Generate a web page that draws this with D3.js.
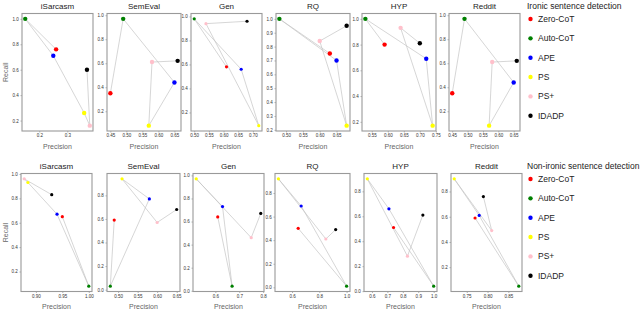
<!DOCTYPE html>
<html>
<head>
<meta charset="utf-8">
<script src="https://cdn.jsdelivr.net/npm/d3@7"></script>
<style>
  body { margin: 0; background: #fff; }
  text { font-family: "Liberation Sans", Arial, sans-serif; }
</style>
</head>
<body>
<svg id="chart" width="640" height="309" viewBox="0 0 640 309"></svg>
<script>
// methods, in the order the connecting line visits them
const methods = ["Zero-CoT", "Auto-CoT", "APE", "PS", "PS+", "IDADP"];
const methodColors = ["red", "green", "blue", "yellow", "pink", "black"];
const datasets = ["iSarcasm", "SemEval", "Gen", "RQ", "HYP", "Reddit"];

// Ironic sentence detection
const ironicPrecision = [
    [0.26, 0.15, 0.25, 0.36, 0.38, 0.37],
    [0.45, 0.49, 0.65, 0.57, 0.58, 0.66],
    [0.61, 0.50, 0.66, 0.72, 0.54, 0.68],
    [0.63, 0.48, 0.65, 0.68, 0.60, 0.68],
    [0.59, 0.53, 0.72, 0.74, 0.64, 0.70],
    [0.45, 0.49, 0.65, 0.57, 0.58, 0.66]
];
const ironicRecall = [
    [0.76, 1.00, 0.71, 0.26, 0.16, 0.60],
    [0.35, 0.97, 0.44, 0.08, 0.61, 0.62],
    [0.58, 0.98, 0.56, 0.09, 0.94, 0.96],
    [0.75, 1.00, 0.70, 0.23, 0.84, 0.95],
    [0.80, 1.00, 0.69, 0.17, 0.93, 0.81],
    [0.35, 0.97, 0.44, 0.08, 0.61, 0.62]
];
const ironicXTicks = [
    ["0.2", "0.3"],
    ["0.45", "0.50", "0.55", "0.60", "0.65"],
    ["0.50", "0.55", "0.60", "0.65", "0.70"],
    ["0.50", "0.55", "0.60", "0.65"],
    ["0.55", "0.60", "0.65", "0.70", "0.75"],
    ["0.45", "0.50", "0.55", "0.60", "0.65"]
];
const ironicYTicks = [
    ["0.2", "0.4", "0.6", "0.8", "1.0"],
    ["0.2", "0.4", "0.6", "0.8", "1.0"],
    ["0.2", "0.4", "0.6", "0.8", "1.0"],
    ["0.2", "0.3", "0.4", "0.5", "0.6", "0.7", "0.8", "0.9", "1.0"],
    ["0.2", "0.4", "0.6", "0.8", "1.0"],
    ["0.2", "0.4", "0.6", "0.8", "1.0"]
];

// Non-ironic sentence detection
const nonIronicPrecision = [
    [0.95, 1.00, 0.94, 0.885, 0.878, 0.93],
    [0.49, 0.48, 0.58, 0.51, 0.60, 0.65],
    [0.61, 0.67, 0.63, 0.52, 0.75, 0.79],
    [0.645, 1.00, 0.667, 0.50, 0.848, 0.92],
    [0.74, 1.00, 0.71, 0.57, 0.83, 0.93],
    [0.77, 0.875, 0.78, 0.72, 0.81, 0.79]
];
const nonIronicRecall = [
    [0.65, 0.08, 0.67, 0.93, 0.96, 0.83],
    [0.59, 0.03, 0.77, 0.94, 0.57, 0.68],
    [0.64, 0.04, 0.73, 0.97, 0.46, 0.67],
    [0.50, 0.01, 0.69, 0.92, 0.41, 0.49],
    [0.51, 0.04, 0.66, 0.90, 0.28, 0.61],
    [0.59, 0.05, 0.61, 0.90, 0.49, 0.76]
];
const nonIronicXTicks = [
    ["0.90", "0.95", "1.00"],
    ["0.50", "0.55", "0.60", "0.65"],
    ["0.6", "0.7", "0.8"],
    ["0.6", "0.8", "1.0"],
    ["0.6", "0.7", "0.8", "0.9", "1.0"],
    ["0.75", "0.80", "0.85"]
];
const nonIronicYTicks = [
    ["0.2", "0.4", "0.6", "0.8", "1.0"],
    ["0.0", "0.2", "0.4", "0.6", "0.8"],
    ["0.0", "0.2", "0.4", "0.6", "0.8", "1.0"],
    ["0.0", "0.2", "0.4", "0.6", "0.8"],
    ["0.0", "0.2", "0.4", "0.6", "0.8"],
    ["0.2", "0.4", "0.6", "0.8"]
];

// layout (frame boxes per panel)
const topFrames = [[22, 93], [107, 181], [191, 262], [276, 350], [362, 436], [449, 520]];
const bottomFrames = [[21, 92], [107, 180], [193, 264], [275, 350], [364, 437], [451, 522]];
const topRowY = [13.5, 131];
const bottomRowY = [173.5, 291.5];

const svg = d3.select("#chart");
svg.append("rect").attr("width", 640).attr("height", 309).attr("fill", "#fff");

// pad extent by 5% like matplotlib's default margins
function padded(values) {
    const [lo, hi] = d3.extent(values);
    const m = (hi - lo) * 0.05;
    return [lo - m, hi + m];
}

function drawPanel(frame, rowY, prec, rec, xTicks, yTicks, title, showRecall, radius) {
    const g = svg.append("g");
    const x = d3.scaleLinear().domain(padded(prec)).range(frame);
    const y = d3.scaleLinear().domain(padded(rec)).range([rowY[1], rowY[0]]);

    const xAxis = g.append("g")
        .attr("transform", `translate(0,${rowY[1]})`)
        .call(d3.axisBottom(x)
            .tickValues(xTicks.map(Number))
            .tickFormat((d, i) => xTicks[i])
            .tickSize(1.5).tickPadding(1.8));
    const yAxis = g.append("g")
        .attr("transform", `translate(${frame[0]},0)`)
        .call(d3.axisLeft(y)
            .tickValues(yTicks.map(Number))
            .tickFormat((d, i) => yTicks[i])
            .tickSize(1.5).tickPadding(1.8));
    [xAxis, yAxis].forEach(a => {
        a.select(".domain").remove();
        a.selectAll(".tick line").attr("stroke", "#666").attr("stroke-width", 0.5);
        a.selectAll(".tick text").attr("fill", "#333").style("font-size", "4.5px");
    });

    // frame
    g.append("rect")
        .attr("x", frame[0]).attr("y", rowY[0])
        .attr("width", frame[1] - frame[0]).attr("height", rowY[1] - rowY[0])
        .attr("fill", "none").attr("stroke", "#9a9a9a").attr("stroke-width", 1.1);

    // connecting line through methods in order
    const pts = prec.map((p, i) => [x(p), y(rec[i])]);
    g.append("path")
        .attr("d", d3.line()(pts))
        .attr("fill", "none")
        .attr("stroke", "#c4c4c4")
        .attr("stroke-width", 0.7);

    g.selectAll(".pt")
        .data(pts)
        .enter()
        .append("circle")
        .attr("cx", d => d[0])
        .attr("cy", d => d[1])
        .attr("r", radius)
        .attr("fill", (d, i) => methodColors[i]);

    const cx = (frame[0] + frame[1]) / 2;
    g.append("text")
        .attr("x", cx).attr("y", rowY[0] - 4.5)
        .attr("text-anchor", "middle")
        .attr("fill", "#222")
        .style("font-size", "8px")
        .text(title);
    g.append("text")
        .attr("x", cx).attr("y", rowY[1] + 17.5)
        .attr("text-anchor", "middle")
        .attr("fill", "#666")
        .style("font-size", "7px")
        .text("Precision");
    if (showRecall) {
        g.append("text")
            .attr("transform", `translate(7.5,${(rowY[0] + rowY[1]) / 2}) rotate(-90)`)
            .attr("text-anchor", "middle")
            .attr("fill", "#666")
            .style("font-size", "7px")
            .text("Recall");
    }
}

datasets.forEach((name, i) => {
    drawPanel(topFrames[i], topRowY, ironicPrecision[i], ironicRecall[i],
        ironicXTicks[i], ironicYTicks[i], name, i === 0, name === "Gen" ? 1.6 : 2.2);
    drawPanel(bottomFrames[i], bottomRowY, nonIronicPrecision[i], nonIronicRecall[i],
        nonIronicXTicks[i], nonIronicYTicks[i], name, i === 0, 1.6);
});

// legends
function drawLegend(title, titleY, firstY) {
    const g = svg.append("g");
    g.append("text")
        .attr("x", 527).attr("y", titleY)
        .attr("fill", "#222")
        .style("font-size", "8.5px")
        .text(title);
    methods.forEach((m, i) => {
        const yy = firstY + i * 19.35;
        g.append("circle").attr("cx", 530.5).attr("cy", yy).attr("r", 2.2).attr("fill", methodColors[i]);
        g.append("text")
            .attr("x", 538).attr("y", yy).attr("dy", "0.35em")
            .attr("fill", "#222")
            .style("font-size", "8.5px")
            .text(m);
    });
}
drawLegend("Ironic sentence detection", 9, 19);
drawLegend("Non-ironic sentence detection", 169, 179);
</script>
</body>
</html>
